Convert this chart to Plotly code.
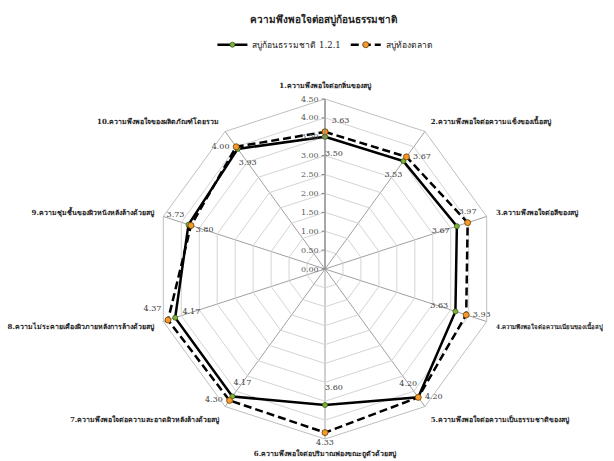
import plotly.graph_objects as go

categories = [
    "1.ความพึงพอใจต่อกลิ่นของสบู่",
    "2.ความพึงพอใจต่อความแข็งของเนื้อสบู่",
    "3.ความพึงพอใจต่อสีของสบู่",
    "4.ความพึงพอใจต่อความเนียนของเนื้อสบู่",
    "5.ความพึงพอใจต่อความเป็นธรรมชาติของสบู่",
    "6.ความพึงพอใจต่อปริมาณฟองขณะถูตัวด้วยสบู่",
    "7.ความพึงพอใจต่อความสะอาดผิวหลังล้างด้วยสบู่",
    "8.ความไม่ระคายเคืองผิวภายหลังการล้างด้วยสบู่",
    "9.ความชุ่มชื้นของผิวหนังหลังล้างด้วยสบู่",
    "10.ความพึงพอใจของผลิตภัณฑ์โดยรวม",
]
series1_name = "สบู่ก้อนธรรมชาติ 1.2.1"
series1 = [3.50, 3.53, 3.67, 3.63, 4.20, 3.60, 4.17, 4.17, 3.80, 3.93]
series2_name = "สบู่ท้องตลาด"
series2 = [3.63, 3.67, 3.97, 3.93, 4.20, 4.33, 4.30, 4.37, 3.73, 4.00]
radial_ticks = [0, 0.5, 1.0, 1.5, 2.0, 2.5, 3.0, 3.5, 4.0, 4.5]
title = "ความพึงพอใจต่อสบู่ก้อนธรรมชาติ"

FONT = "'DejaVu Serif', 'Liberation Serif', serif"

s1_pos = ["middle right", "middle center", "middle center", "middle center", "middle center",
          "middle right", "middle center", "middle center", "middle center", "middle center"]
s2_pos = ["top right", "middle right", "top center", "middle right", "middle right",
          "bottom center", "middle left", "top left", "top left", "middle left"]

closed = lambda a: list(a) + [a[0]]

# angular tick labels: the long 4th label is set a little smaller so it fits the page
tick_text = []
for i, c in enumerate(categories):
    if i == 3:
        tick_text.append(f"<span style='font-size:6px'><b>{c}</b></span>")
    else:
        tick_text.append(f"<b>{c}</b>")

fig = go.Figure()
fig.add_trace(go.Scatterpolar(
    r=closed(series1), theta=closed(categories), name=series1_name,
    mode="lines+markers",
    line=dict(color="#000000", width=2.5),
    marker=dict(color="#7fb13e", size=5, line=dict(color="#3a5a1a", width=0.8)),
))
fig.add_trace(go.Scatterpolar(
    r=closed(series2), theta=closed(categories), name=series2_name,
    mode="lines+markers",
    line=dict(color="#000000", width=2.5, dash="8px,4px"),
    marker=dict(color="#f79a2e", size=6, line=dict(color="#6b3d00", width=0.8)),
))
# data labels series 1 (inside)
fig.add_trace(go.Scatterpolar(
    r=[v - 0.45 for v in series1], theta=categories, mode="text",
    text=[f"{v:.2f}" for v in series1], textposition=s1_pos,
    textfont=dict(size=8, color="#404040", family=FONT), showlegend=False, hoverinfo="skip",
))
# data labels series 2 (outside)
fig.add_trace(go.Scatterpolar(
    r=series2, theta=categories, mode="markers+text",
    marker=dict(size=9, opacity=0),
    text=[f"{v:.2f}" for v in series2], textposition=s2_pos,
    textfont=dict(size=8, color="#404040", family=FONT), showlegend=False, hoverinfo="skip",
))

fig.update_layout(
    width=614, height=461,
    margin=dict(l=0, r=0, t=0, b=0),
    paper_bgcolor="white", plot_bgcolor="white",
    font=dict(family=FONT, color="#404040"),
    title=dict(text=f"<b>{title}</b>", x=0.527, xanchor="center", y=0.958, yanchor="middle",
               font=dict(size=10, color="#222222")),
    legend=dict(orientation="h", x=0.53, xanchor="center", y=0.903, yanchor="middle",
                font=dict(size=8.5, color="#222222"), itemwidth=30),
    polar=dict(
        domain=dict(x=[155/614, 495/614], y=[1-440/461, 1-98/461]),
        bgcolor="white",
        gridshape="linear",
        angularaxis=dict(direction="clockwise", rotation=90, type="category",
                         tickvals=categories, ticktext=tick_text,
                         linecolor="#bfbfbf", gridcolor="#a0a0a0", gridwidth=1,
                         tickfont=dict(size=7, color="#222222", family=FONT),
                         ticks="outside", ticklen=8, tickcolor="rgba(0,0,0,0)", showline=True),
        radialaxis=dict(range=[0, 4.5], tickvals=radial_ticks, tickformat=".2f",
                        angle=90, tickangle=90, side="counterclockwise",
                        tickfont=dict(size=8, color="#595959", family=FONT),
                        gridcolor="#d4d4d4", linecolor="#808080", showline=True,
                        ticks="outside", ticklen=3, tickcolor="#808080"),
    ),
)

fig.write_html("out.html")
